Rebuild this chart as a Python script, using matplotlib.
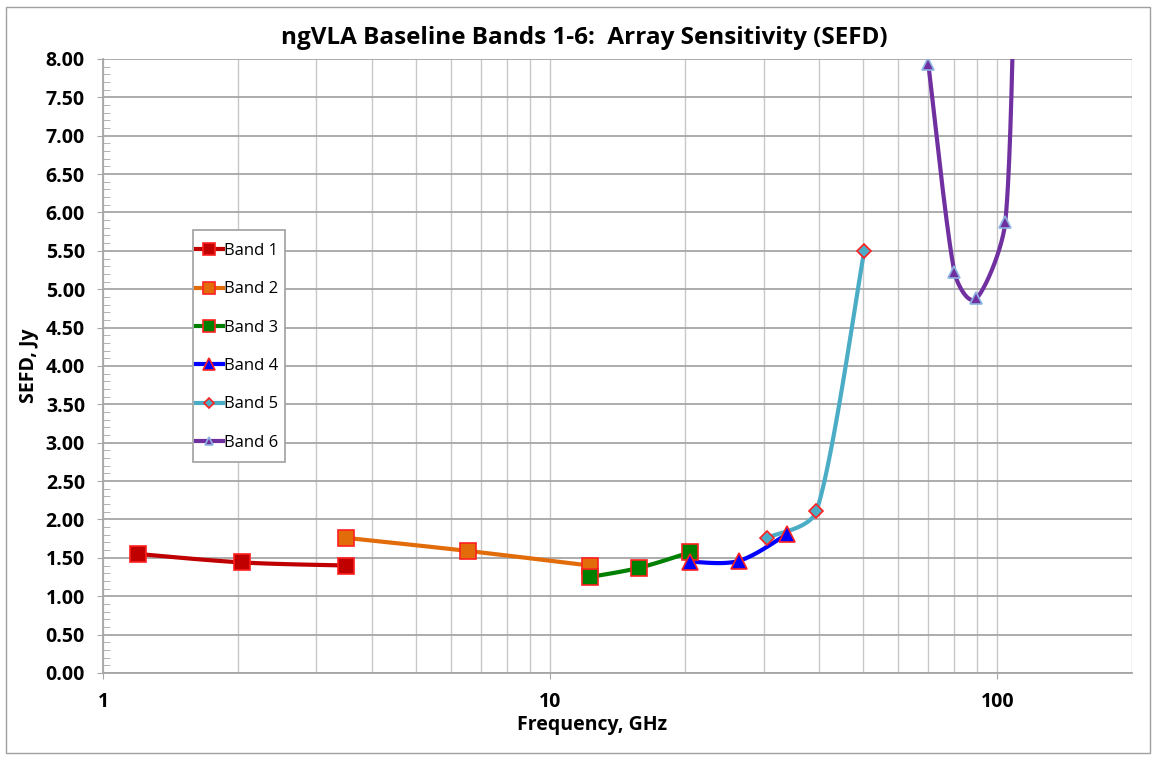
import numpy as np
import matplotlib.pyplot as plt
from matplotlib.patches import Rectangle
from matplotlib.ticker import FixedLocator, MultipleLocator, NullFormatter

plt.rcParams['font.family'] = ['Open Sans', 'DejaVu Sans']

# data (frequency GHz, SEFD Jy)
band1_f = [1.20, 2.05, 3.50]
band1_s = [1.55, 1.44, 1.40]
band2_f = [3.50, 6.54, 12.25]
band2_s = [1.76, 1.59, 1.40]
band3_f = [12.25, 15.8, 20.5]
band3_s = [1.25, 1.37, 1.57]
band4_f = [20.5, 26.4, 33.9]
band4_s = [1.45, 1.46, 1.81]
band5_f = [30.5, 39.4, 50.4]
band5_s = [1.76, 2.11, 5.50]
band6_f = [70.1, 80.2, 89.8, 104.2, 110.0]
band6_s = [7.93, 5.22, 4.88, 5.88, 10.0]

bands = [
    ("Band 1", band1_f, band1_s, '#C00000', 's', '#C00000', '#FF2020', 11),
    ("Band 2", band2_f, band2_s, '#E36C0A', 's', '#E36C0A', '#FF2020', 11),
    ("Band 3", band3_f, band3_s, '#008000', 's', '#008000', '#FF2020', 11),
    ("Band 4", band4_f, band4_s, '#0000FF', '^', '#0000FF', '#FF2020', 11),
    ("Band 5", band5_f, band5_s, '#4BACC6', 'D', '#4BACC6', '#FF2020', 7),
    ("Band 6", band6_f, band6_s, '#7030A0', '^', '#7030A0', '#8DB4E2', 8),
]

# rough pixel scale of the plot (px per decade, px per Jy) for the smoothing
SX, SY = 447.5, 76.75


def smooth(xs, ys, n=40):
    # Bezier smoothing like Excel's smoothed lines, with handles kept short
    P = np.column_stack([np.log10(np.asarray(xs, float)) * SX, np.asarray(ys, float) * SY])
    Q = np.vstack([P[0], P, P[-1]])
    t = np.linspace(0, 1, n)[:, None]
    out = []
    for i in range(1, len(Q) - 2):
        p0, p1, p2, p3 = Q[i - 1], Q[i], Q[i + 1], Q[i + 2]
        L = np.hypot(*(p2 - p1))
        h1 = (p2 - p0) / 6
        h2 = (p3 - p1) / 6
        for h in (h1, h2):
            hl = np.hypot(*h)
            if hl > L / 3:
                h *= (L / 3) / hl
        c1, c2 = p1 + h1, p2 - h2
        seg = ((1 - t) ** 3 * p1 + 3 * (1 - t) ** 2 * t * c1
               + 3 * (1 - t) * t ** 2 * c2 + t ** 3 * p2)
        out.append(seg)
    out = np.vstack(out)
    return 10 ** (out[:, 0] / SX), out[:, 1] / SY


fig = plt.figure(figsize=(11.56, 7.57), dpi=100)
ax = fig.add_axes([0.0891, 0.111, 0.8901, 0.8111])

# chart border
fig.patches.append(Rectangle((6 / 1156, 4 / 757), 1144 / 1156, 746 / 757, transform=fig.transFigure,
                             fill=False, edgecolor='#A0A0A0', linewidth=1))

for name, f, s, lc, mk, mfc, mec, ms in bands:
    sx, sy = smooth(f, s)
    ax.plot(sx, sy, color=lc, linewidth=3, zorder=3)
    ax.plot(f, s, linestyle='none', marker=mk, markersize=ms, markerfacecolor=mfc,
            markeredgecolor=mec, markeredgewidth=1.2, zorder=4)
    ax.plot([], [], color=lc, linewidth=3, marker=mk, markersize=ms * 0.8, markerfacecolor=mfc,
            markeredgecolor=mec, markeredgewidth=1.2, label=name)

ax.set_xscale('log')
ax.set_xlim(1, 200)
ax.set_ylim(0, 8)

ax.yaxis.set_minor_locator(MultipleLocator(0.1))
ax.set_yticks(np.arange(0, 8.01, 0.5))
ax.set_yticklabels([f"{v:.2f}" for v in np.arange(0, 8.01, 0.5)], fontweight='bold', fontsize=14)

ax.xaxis.set_major_locator(FixedLocator([1, 10, 100]))
ax.set_xticklabels(['1', '10', '100'], fontweight='bold', fontsize=14)
minor_x = [m * d for d in (1, 10, 100) for m in range(2, 10) if m * d <= 200]
ax.xaxis.set_minor_locator(FixedLocator(minor_x))
ax.xaxis.set_minor_formatter(NullFormatter())

ax.grid(True, axis='y', which='major', color='#A6A6A6', linewidth=1.3)
ax.grid(True, axis='x', which='both', color='#C8C8C8', linewidth=1.0)
ax.set_axisbelow(True)

ax.tick_params(axis='y', which='major', direction='out', length=4, color='#A6A6A6', pad=9)
ax.tick_params(axis='y', which='minor', direction='in', length=5, color='#A6A6A6')
ax.tick_params(axis='x', which='major', direction='out', length=4, color='#A6A6A6', pad=10)
ax.tick_params(axis='x', which='minor', length=0)

for side in ('top', 'right'):
    ax.spines[side].set_visible(False)
for side in ('left', 'bottom'):
    ax.spines[side].set_color('#A6A6A6')
    ax.spines[side].set_linewidth(1.3)

fig.text(584 / 1156, 1 - 38 / 757, "ngVLA Baseline Bands 1-6:  Array Sensitivity (SEFD)",
         fontsize=17.5, fontweight='bold', ha='center', va='center')
ax.set_xlabel("Frequency, GHz", fontsize=14, fontweight='bold', labelpad=2)
ax.xaxis.label.set_x((592 - 103) / 1029)
ax.set_ylabel("SEFD, Jy", fontsize=14, fontweight='bold', labelpad=5)

# legend box drawn separately so the padding can match
fig.patches.append(Rectangle((193 / 1156, 1 - 462 / 757), 92 / 1156, 232 / 757,
                             transform=fig.transFigure, facecolor='white',
                             edgecolor='#A0A0A0', linewidth=1.2, zorder=5))
leg = ax.legend(loc='upper left', bbox_to_anchor=(196 / 1156, 1 - 243 / 757),
                bbox_transform=fig.transFigure, fontsize=12, frameon=False,
                labelspacing=1.34, handlelength=1.6, handletextpad=0.1,
                borderpad=0, borderaxespad=0)
leg.set_zorder(6)
leg.remove()
fig.legends.append(leg)
leg.figure = fig

fig.savefig('out.png', dpi=100)
